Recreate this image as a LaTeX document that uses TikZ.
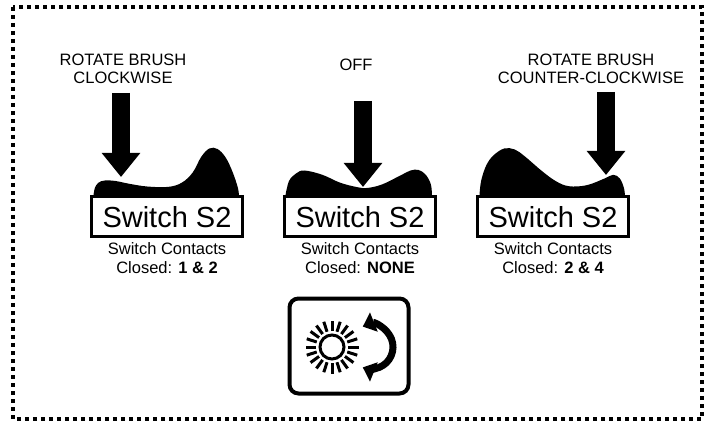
\documentclass[tikz,border=0pt]{standalone}
\usepackage{fontspec}
\setmainfont{Liberation Sans}
\usetikzlibrary{arrows.meta, positioning}

\begin{document}
\begin{tikzpicture}[x=1pt, y=-1pt,
    switchbox/.style={draw, line width=3pt, fill=white,
                      minimum width=151pt, minimum height=40pt,
                      inner sep=0pt, font=\fontsize{29}{32}\selectfont},
    caption/.style={align=center, inner sep=1pt,
                    font=\fontsize{16.5}{18.5}\selectfont},
    pusharrow/.style={line width=18pt,
                      -{Triangle[width=37pt, length=24pt]}},
    rocker/.style={fill=black}]
  \useasboundingbox (0,0) rectangle (713,425);
  % dotted frame round the whole panel
  \draw[line width=4pt, dash pattern=on 4pt off 4pt] (13,7) rectangle (702,419);

  % what each rocker position does
  \node[caption] (cwlabel)  at (123,69) {ROTATE BRUSH\\CLOCKWISE};
  \node[caption] (offlabel) at (356,65) {OFF};
  \node[caption] (ccwlabel) at (591,69) {ROTATE BRUSH\\COUNTER-CLOCKWISE};

  % the three switch positions
  \node[switchbox] (swcw) at (167,217) {Switch S2};
  \node[switchbox, right=39pt of swcw] (swoff) {Switch S2};
  \node[switchbox, right=39pt of swoff] (swccw) {Switch S2};

  \node[caption, below=3pt of swcw]  (cwcontacts)  {Switch Contacts\\Closed: \textbf{1 \& 2}};
  \node[caption, below=3pt of swoff] (offcontacts) {Switch Contacts\\Closed: \textbf{NONE}};
  \node[caption, below=3pt of swccw] (ccwcontacts) {Switch Contacts\\Closed: \textbf{2 \& 4}};

  % rocker tops, pressed down at one end or in the middle
  \begin{scope}[shift={(swcw.north west)}, xscale=1.02]
    \fill[rocker] plot[smooth, tension=0.6] coordinates {
      (3.4,0) (4.8,-7.6) (8.3,-12.8) (14.5,-15) (25,-14.5) (38.6,-11.7)
      (56,-9) (76.5,-8.6) (90,-12.8) (100.7,-23) (109,-38.6) (117,-47)
      (125,-46.5) (133,-38) (140,-23) (145,-7.6) (146,0)} -- cycle;
  \end{scope}
  \begin{scope}[shift={(swoff.north west)}, xscale=1.02]
    \fill[rocker] plot[smooth, tension=0.6] coordinates {
      (2.4,0) (5.9,-14.5) (12.8,-22) (21,-25) (38.6,-20.7) (56,-12.8)
      (73,-8.3) (83,-7.6) (97,-11) (114.5,-19.7) (125,-25) (133,-25.5)
      (140,-20.7) (145,-11) (146,0)} -- cycle;
  \end{scope}
  \begin{scope}[shift={(swccw.north west)}, xscale=1.02]
    \fill[rocker] plot[smooth, tension=0.6] coordinates {
      (3.4,0) (5,-14.5) (10,-30) (17,-40) (27.6,-47) (38,-46) (48,-39)
      (64,-25) (78,-14.5) (91,-9.3) (108.6,-10.3) (126,-17) (134.5,-20.7)
      (141,-17) (145,-7.6) (146,0)} -- cycle;
  \end{scope}

  % push arrows
  \coordinate (cwtop)  at (121,93);
  \coordinate (cwtip)  at (121,177);
  \coordinate (offtop) at (363,101);
  \coordinate (offtip) at (363,187);
  \coordinate (ccwtop) at (606,92);
  \coordinate (ccwtip) at (606,175);
  \draw[pusharrow] (cwtop) -- (cwtip);
  \draw[pusharrow] (offtop) -- (offtip);
  \draw[pusharrow] (ccwtop) -- (ccwtip);

  % brush rotation symbol
  \node[draw, line width=4pt, rounded corners=9pt,
        minimum width=119pt, minimum height=95pt] (icon) at (349,346) {};
  \coordinate (sun) at (332,347);
  \coordinate (spin) at (371,347);
  \draw[line width=3pt] (sun) circle[radius=12];
  \foreach \a in {0,18,...,342}
    \draw[line width=3pt] (sun) ++(\a:16) -- ++(\a:10.5);
  \draw[line width=7pt, {Triangle[width=20pt,length=12pt]}-{Triangle[width=20pt,length=12pt]}]
    (spin) ++(-112:22) arc[start angle=-112, end angle=112, radius=22];
\end{tikzpicture}
\end{document}
